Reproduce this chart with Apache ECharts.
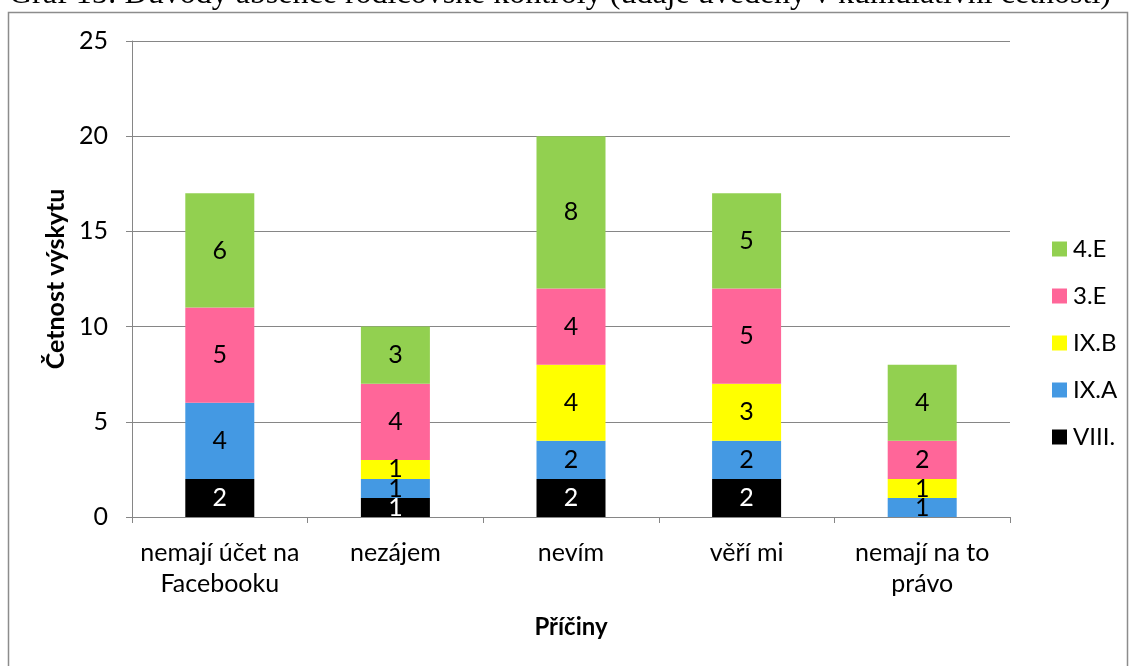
<!DOCTYPE html>
<html>
<head>
<meta charset="UTF-8">
<title>Graf 15</title>
<script src="https://cdn.jsdelivr.net/npm/echarts@6/dist/echarts.min.js"></script>
<style>
body{margin:0;background:#fff;}
#chart{width:1132px;height:666px;}
</style>
</head>
<body>
<div id="chart"></div>
<script type="text/javascript">
// data
var categories = ['nemají účet na\nFacebooku', 'nezájem', 'nevím', 'věří mi', 'nemají na to\nprávo'];
var seriesNames = ['VIII.', 'IX.A', 'IX.B', '3.E', '4.E'];
var viii = [2, 1, 2, 2, 0];
var ixA = [4, 1, 2, 2, 1];
var ixB = [0, 1, 4, 3, 1];
var e3 = [5, 4, 4, 5, 2];
var e4 = [6, 3, 8, 5, 4];
var yTicks = [0, 5, 10, 15, 20, 25];

var colors = ['#000000', '#4499E3', '#FFFF00', '#FF6699', '#92D050'];
var values = [viii, ixA, ixB, e3, e4];
var font = 'Lato, "Open Sans", sans-serif';

var series = [];
for (var i = 0; i < seriesNames.length; i++) {
	series.push({
		name: seriesNames[i],
		type: 'bar',
		stack: 'total',
		barWidth: 69,
		data: values[i],
		itemStyle: { color: colors[i] },
		label: {
			show: true,
			position: 'inside',
			color: i == 0 ? '#fff' : '#000',
			fontFamily: font,
			fontSize: 25,
			formatter: function (p) { return p.value ? p.value : ''; }
		}
	});
}

var chart = echarts.init(document.getElementById('chart'));
var option = {
	animation: false,
	textStyle: { fontFamily: font },
	graphic: [
		{ type: 'rect', shape: { x: 8.5, y: 12.5, width: 1119, height: 700 },
		  style: { fill: 'none', stroke: '#8c8c8c', lineWidth: 1.5 }, silent: true },
		{ type: 'text', left: 9, top: -21,
		  style: { text: 'Graf 15: Důvody absence rodičovské kontroly (údaje uvedeny v kumulativní četnosti)',
		           font: '32px "Liberation Serif", serif', fill: '#000' } }
	],
	legend: {
		orient: 'vertical',
		left: 1047,
		top: 232,
		itemWidth: 15,
		itemHeight: 15,
		itemGap: 23,
		icon: 'rect',
		data: seriesNames.slice().reverse(),
		textStyle: { fontFamily: font, fontSize: 24, color: '#000', padding: [0, 0, 0, 1] }
	},
	grid: { left: 132, right: 122, top: 41, bottom: 149 },
	xAxis: {
		type: 'category',
		data: categories,
		name: 'Příčiny',
		nameLocation: 'middle',
		nameGap: 98,
		nameTextStyle: { fontFamily: font, fontSize: 24, fontWeight: 'bold', color: '#000' },
		axisLine: { lineStyle: { color: '#868686' } },
		axisTick: { show: true, length: 6, alignWithLabel: false, lineStyle: { color: '#868686' } },
		axisLabel: { color: '#000', fontSize: 25, lineHeight: 31, margin: 20, interval: 0 }
	},
	yAxis: {
		type: 'value',
		min: yTicks[0],
		max: yTicks[yTicks.length - 1],
		interval: 5,
		name: 'Četnost výskytu',
		nameLocation: 'middle',
		nameGap: 60,
		nameTextStyle: { fontFamily: font, fontSize: 25, fontWeight: 'bold', color: '#000' },
		axisLine: { show: true, lineStyle: { color: '#868686' } },
		axisTick: { show: true, length: 6, lineStyle: { color: '#868686' } },
		axisLabel: { color: '#000', fontSize: 25, margin: 24 },
		splitLine: { lineStyle: { color: '#868686' } }
	},
	series: series
};
chart.setOption(option);
</script>
</body>
</html>
